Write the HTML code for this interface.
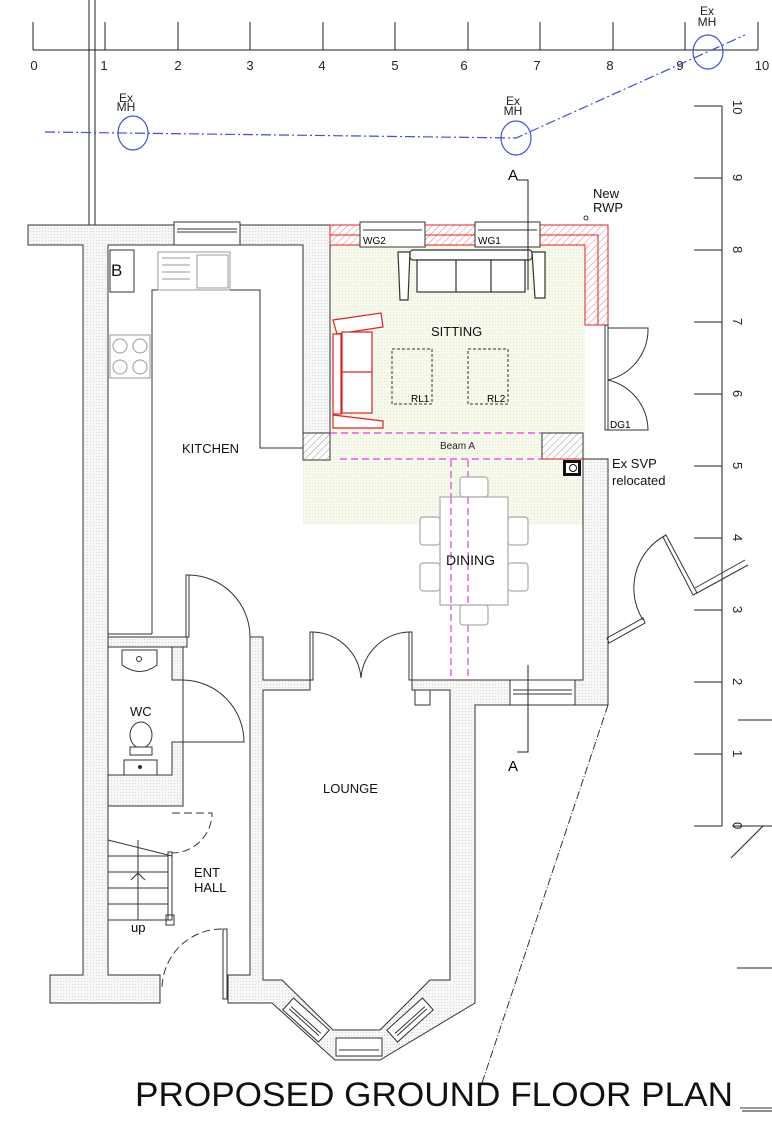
<!DOCTYPE html>
<html><head><meta charset="utf-8"><style>
html,body{margin:0;padding:0;background:#fff;}
svg{display:block;font-family:"Liberation Sans",sans-serif;}
</style></head><body>
<svg width="772" height="1122" viewBox="0 0 772 1122" xmlns="http://www.w3.org/2000/svg">
<defs>
<pattern id="st" width="3" height="3" patternUnits="userSpaceOnUse"><rect width="3" height="3" fill="#f7f7f7"/><rect width="1" height="1" fill="#d6d6d6"/></pattern>
<pattern id="gr" width="3" height="3" patternUnits="userSpaceOnUse"><rect width="3" height="3" fill="#f6f9ec"/><rect width="1" height="1" fill="#e2eacc"/></pattern>
<pattern id="ht" width="5" height="5" patternUnits="userSpaceOnUse" patternTransform="rotate(45)"><rect width="5" height="5" fill="#fff"/><line x1="0" y1="0" x2="0" y2="5" stroke="#999" stroke-width="1"/></pattern>
<pattern id="rh" width="5" height="5" patternUnits="userSpaceOnUse" patternTransform="rotate(45)"><rect width="5" height="5" fill="#fff"/><line x1="0" y1="0" x2="0" y2="5" stroke="#e08080" stroke-width="1"/></pattern>
</defs>

<!-- top ruler -->
<g stroke="#222" stroke-width="1" fill="none">
<line x1="33" y1="50" x2="758" y2="50"/>
<line x1="33" y1="22" x2="33" y2="50"/><line x1="105" y1="22" x2="105" y2="50"/><line x1="178" y1="22" x2="178" y2="50"/><line x1="250" y1="22" x2="250" y2="50"/><line x1="323" y1="22" x2="323" y2="50"/><line x1="395" y1="22" x2="395" y2="50"/><line x1="468" y1="22" x2="468" y2="50"/><line x1="540" y1="22" x2="540" y2="50"/><line x1="613" y1="22" x2="613" y2="50"/><line x1="685" y1="22" x2="685" y2="50"/><line x1="758" y1="22" x2="758" y2="50"/>
<line x1="89" y1="0" x2="89" y2="225"/><line x1="95" y1="0" x2="95" y2="225"/>
</g>
<g font-size="13" fill="#222" text-anchor="middle">
<text x="34" y="70">0</text><text x="104" y="70">1</text><text x="178" y="70">2</text><text x="250" y="70">3</text><text x="322" y="70">4</text><text x="395" y="70">5</text><text x="464" y="70">6</text><text x="537" y="70">7</text><text x="610" y="70">8</text><text x="680" y="70">9</text><text x="762" y="70">10</text>
</g>
<!-- right ruler -->
<g stroke="#222" stroke-width="1">
<line x1="722" y1="106" x2="722" y2="826"/>
<line x1="694" y1="106" x2="722" y2="106"/><line x1="694" y1="178" x2="722" y2="178"/><line x1="694" y1="250" x2="722" y2="250"/><line x1="694" y1="322" x2="722" y2="322"/><line x1="694" y1="394" x2="722" y2="394"/><line x1="694" y1="466" x2="722" y2="466"/><line x1="694" y1="538" x2="722" y2="538"/><line x1="694" y1="610" x2="722" y2="610"/><line x1="694" y1="682" x2="722" y2="682"/><line x1="694" y1="754" x2="722" y2="754"/><line x1="694" y1="826" x2="722" y2="826"/>
<line x1="738" y1="720" x2="772" y2="720"/><line x1="732" y1="826" x2="772" y2="826"/><line x1="731" y1="858" x2="763" y2="826"/><line x1="737" y1="968" x2="772" y2="968"/><line x1="742" y1="1111" x2="772" y2="1111"/>
</g>
<g font-size="13" fill="#222">
<text transform="translate(733,100) rotate(90)">10</text><text transform="translate(733,174) rotate(90)">9</text><text transform="translate(733,246) rotate(90)">8</text><text transform="translate(733,318) rotate(90)">7</text><text transform="translate(733,390) rotate(90)">6</text><text transform="translate(733,462) rotate(90)">5</text><text transform="translate(733,534) rotate(90)">4</text><text transform="translate(733,606) rotate(90)">3</text><text transform="translate(733,678) rotate(90)">2</text><text transform="translate(733,750) rotate(90)">1</text><text transform="translate(733,822) rotate(90)">0</text>
</g>

<!-- drain -->
<g stroke="#3a4fe0" fill="none" stroke-width="1.2">
<polyline points="45,132 516,138 745,35" stroke-dasharray="10,3,2,3"/>
<ellipse cx="133" cy="133" rx="15" ry="17"/><ellipse cx="516" cy="138" rx="15" ry="17"/><ellipse cx="708" cy="52" rx="15" ry="17"/>
</g>
<g font-size="12" fill="#222" text-anchor="middle">
<text x="126" y="102">Ex</text><text x="126" y="111">MH</text>
<text x="513" y="105">Ex</text><text x="513" y="115">MH</text>
<text x="707" y="15">Ex</text><text x="707" y="26">MH</text>
</g>

<!-- green floor -->
<rect x="330" y="245" width="255" height="215" fill="url(#gr)"/>
<rect x="303" y="459" width="280" height="66" fill="url(#gr)"/>

<!-- stippled walls -->
<g fill="url(#st)" stroke="#333" stroke-width="1">
<polygon points="28,225 330,225 330,460 303,460 303,245 108,245 108,975 160,975 160,1003 50,1003 50,975 83,975 83,245 28,245"/>
<rect x="108" y="637" width="79" height="10"/>
<polygon points="172,647 183,647 183,680 172,680"/>
<polygon points="172,742 183,742 183,806 108,806 108,775 172,775"/>
<polygon points="250,637 263,637 263,680 310,680 310,690 263,690 263,980 282,980 333,1030 380,1030 430,980 450,980 450,690 412,690 412,680 583,680 583,459 608,459 608,705 475,705 475,1003 380,1060 335,1060 272,1003 228,1003 228,975 250,975"/>
</g>
<!-- bay windows -->
<g fill="#fff" stroke="#333">
<g transform="translate(306,1020) rotate(42)"><rect x="-24" y="-8" width="48" height="16"/><line x1="-20" y1="0" x2="20" y2="0"/><line x1="-20" y1="3" x2="20" y2="3"/></g>
<rect x="336" y="1038" width="46" height="18"/><line x1="339" y1="1050" x2="379" y2="1050"/>
<g transform="translate(410,1020) rotate(-42)"><rect x="-24" y="-8" width="48" height="16"/><line x1="-20" y1="0" x2="20" y2="0"/><line x1="-20" y1="3" x2="20" y2="3"/></g>
</g>
<!-- kitchen window -->
<rect x="174" y="222" width="66" height="23" fill="#fff" stroke="#333"/>
<line x1="177" y1="229" x2="237" y2="229" stroke="#333"/><line x1="177" y1="232" x2="237" y2="232" stroke="#333"/>
<!-- dining window -->
<rect x="510" y="680" width="65" height="25" fill="#fff" stroke="#333"/>
<line x1="513" y1="690" x2="572" y2="690" stroke="#333"/><line x1="513" y1="694" x2="572" y2="694" stroke="#333"/>

<!-- red walls sitting -->
<polygon points="330,225 608,225 608,325 585,325 585,245 330,245" fill="url(#rh)" stroke="#e02020"/>
<polyline points="330,235 598,235 598,325" fill="none" stroke="#e02020"/>
<rect x="360" y="222" width="65" height="25" fill="#fff" stroke="#333"/>
<rect x="475" y="222" width="65" height="25" fill="#fff" stroke="#333"/>
<line x1="363" y1="230" x2="422" y2="230" stroke="#333"/><line x1="478" y1="230" x2="537" y2="230" stroke="#333"/>
<text x="363" y="244" font-size="10">WG2</text><text x="478" y="244" font-size="10">WG1</text>
<rect x="303" y="433" width="27" height="27" fill="url(#ht)" stroke="#333"/>
<rect x="542" y="433" width="41" height="26" fill="url(#ht)" stroke="#333"/>
<line x1="542" y1="459" x2="583" y2="459" stroke="#e02020"/>
<!-- SVP -->
<rect x="563" y="460" width="18" height="16" fill="#111"/><rect x="566" y="463" width="12" height="10" fill="#fff"/><circle cx="573" cy="468" r="3.5" fill="none" stroke="#111"/>

<!-- beams -->
<g stroke="#e040e0" stroke-dasharray="7,4" stroke-width="1.2" fill="none">
<line x1="330" y1="433" x2="542" y2="433"/><line x1="340" y1="459" x2="542" y2="459"/>
<line x1="451" y1="460" x2="451" y2="680"/><line x1="468" y1="460" x2="468" y2="680"/>
</g>
<text x="440" y="449" font-size="10" fill="#222">Beam  A</text>
<text x="473" y="604" font-size="10" fill="#222">Beam  B</text>

<!-- kitchen fittings -->
<g fill="none" stroke="#333">
<polyline points="152,634 152,290 260,290 260,448 303,448"/>
<line x1="108" y1="634" x2="152" y2="634"/>
<rect x="110" y="250" width="24" height="42"/>
</g>
<text x="111" y="276" font-size="17" fill="#111">B</text>
<g fill="none" stroke="#999">
<rect x="158" y="252" width="72" height="38"/><rect x="197" y="255" width="31" height="33"/>
<line x1="162" y1="258" x2="190" y2="258"/><line x1="162" y1="265" x2="190" y2="265"/><line x1="162" y1="272" x2="190" y2="272"/><line x1="162" y1="279" x2="190" y2="279"/>
<rect x="110" y="335" width="40" height="43"/>
<circle cx="120" cy="346" r="7"/><circle cx="140" cy="346" r="7"/><circle cx="120" cy="367" r="7"/><circle cx="140" cy="367" r="7"/>
</g>
<!-- kitchen door -->
<rect x="186" y="575" width="3" height="62" fill="#fff" stroke="#333"/>
<path d="M189,575 A62,62 0 0 1 250,637" fill="none" stroke="#333"/>

<!-- sofa -->
<g fill="#fff" stroke="#333" stroke-width="1.2">
<polygon points="398,252 410,252 408,300 400,300"/>
<polygon points="532,252 545,252 545,298 535,298"/>
<rect x="410" y="250" width="122" height="10" rx="3"/>
<rect x="417" y="260" width="108" height="32"/>
<line x1="456" y1="260" x2="456" y2="292"/><line x1="491" y1="260" x2="491" y2="292"/>
</g>
<g fill="#fff" stroke="#e02020" stroke-width="1.2">
<polygon points="333,320 381,313 383,327 337,334"/>
<polygon points="333,415 383,421 383,428 333,428"/>
<rect x="333" y="334" width="8" height="80"/>
<rect x="342" y="332" width="30" height="81"/>
<line x1="342" y1="372" x2="372" y2="372"/>
</g>
<g fill="none" stroke="#333" stroke-dasharray="3,2">
<rect x="392" y="349" width="40" height="55"/><rect x="468" y="349" width="40" height="55"/>
</g>
<text x="411" y="402" font-size="10">RL1</text><text x="487" y="402" font-size="10">RL2</text>
<!-- sitting doors DG1 -->
<g fill="none" stroke="#333">
<rect x="605" y="325" width="3" height="105" fill="#fff"/>
<path d="M608,328 L648,328 A52,52 0 0 1 608,380"/>
<path d="M608,430 L648,430 A52,52 0 0 0 608,380"/>
</g>
<text x="610" y="428" font-size="10">DG1</text>

<!-- dining table -->
<g fill="#fff" stroke="#aaa" stroke-width="1.2">
<rect x="460" y="477" width="28" height="20" rx="3"/><rect x="460" y="605" width="28" height="20" rx="3"/>
<rect x="420" y="517" width="20" height="28" rx="3"/><rect x="420" y="563" width="20" height="28" rx="3"/>
<rect x="508" y="517" width="20" height="28" rx="3"/><rect x="508" y="563" width="20" height="28" rx="3"/>
<rect x="440" y="497" width="68" height="108"/>
</g>
<g stroke="#e040e0" stroke-dasharray="7,4" stroke-width="1.2"><line x1="451" y1="497" x2="451" y2="605"/><line x1="468" y1="497" x2="468" y2="605"/></g>

<!-- WC fittings -->
<g fill="#fff" stroke="#333">
<path d="M122,650 L157,650 L157,665 Q140,678 122,665 Z"/><circle cx="139" cy="659" r="2.5"/>
<ellipse cx="141" cy="735" rx="11" ry="13"/><rect x="130" y="747" width="22" height="8"/>
<path d="M124,760 L157,760 L157,775 L124,775 Z"/><circle cx="140" cy="767" r="1.5" fill="#333"/>
</g>
<!-- WC door -->
<path d="M183,680 A62,62 0 0 1 244,742 L183,742" fill="none" stroke="#333"/>
<line x1="183" y1="680" x2="183" y2="742" stroke="#333"/>

<!-- stairs -->
<g fill="none" stroke="#333">
<line x1="108" y1="840" x2="172" y2="856"/>
<line x1="108" y1="856" x2="168" y2="856"/><line x1="108" y1="872" x2="168" y2="872"/><line x1="108" y1="888" x2="168" y2="888"/><line x1="108" y1="904" x2="168" y2="904"/><line x1="108" y1="920" x2="168" y2="920"/>
<line x1="138" y1="840" x2="138" y2="920"/><polyline points="131,880 138,873 145,880"/>
<rect x="168" y="852" width="4" height="68"/><rect x="166" y="915" width="8" height="10"/>
<path d="M172,813 L212,813 A40,40 0 0 1 172,853" stroke-dasharray="8,4"/>
<path d="M222,929 A60,60 0 0 0 162,989" stroke-dasharray="8,4"/>
<rect x="223" y="929" width="4" height="70"/>
</g>
<text x="131" y="932" font-size="13">up</text>

<!-- lounge doors -->
<g fill="none" stroke="#333">
<rect x="310" y="632" width="3" height="48"/><rect x="409" y="632" width="3" height="48"/>
<path d="M313,632 A50,50 0 0 1 361,678"/><path d="M409,632 A50,50 0 0 0 361,678"/>
<rect x="415" y="690" width="15" height="15"/>
</g>

<!-- external door right -->
<g fill="none" stroke="#333">
<polygon points="607,638 643,618 645,623 609,643"/>
<path d="M643,620 A60,60 0 0 1 666,535"/>
<polygon points="666,535 697,593 693,595 663,537"/>
<line x1="697" y1="593" x2="748" y2="565"/><line x1="695" y1="588" x2="745" y2="560"/>
</g>
<!-- boundary dotted line -->
<line x1="608" y1="705" x2="478" y2="1095" stroke="#333" stroke-dasharray="8,2,1,2"/>

<!-- section A -->
<g stroke="#222" fill="none"><polyline points="517,180 528,180 528,290"/><polyline points="528,665 528,752 517,752"/></g>
<text x="508" y="180" font-size="15">A</text><text x="508" y="771" font-size="15">A</text>
<circle cx="586" cy="218" r="2" fill="none" stroke="#333"/>

<!-- labels -->
<g font-size="13" fill="#111">
<text x="593" y="198">New</text><text x="593" y="212">RWP</text>
<text x="431" y="336">SITTING</text>
<text x="182" y="453">KITCHEN</text>
<text x="446" y="565" font-size="14">DINING</text>
<text x="612" y="468">Ex SVP</text><text x="612" y="485">relocated</text>
<text x="130" y="716">WC</text>
<text x="323" y="793">LOUNGE</text>
<text x="194" y="877">ENT</text><text x="194" y="892">HALL</text>
</g>
<text x="135" y="1106" font-size="34" fill="#111" textLength="598" lengthAdjust="spacingAndGlyphs">PROPOSED GROUND FLOOR PLAN</text>
<line x1="740" y1="1108" x2="772" y2="1108" stroke="#333"/>
</svg>
</body></html>
